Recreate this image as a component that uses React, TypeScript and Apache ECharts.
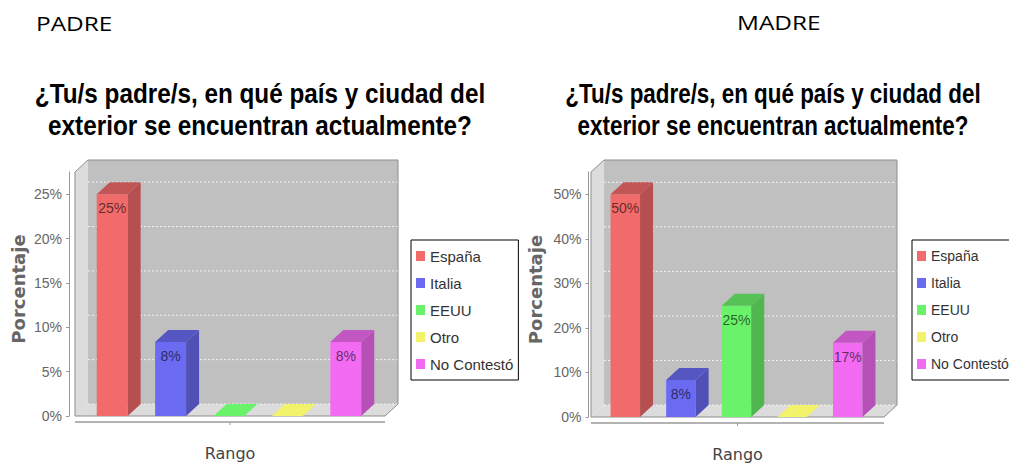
import React, { useEffect, useRef } from "react";
import * as echarts from "echarts";

const categories = ["España", "Italia", "EEUU", "Otro", "No Contestó"];
const padreValues = [25, 8.33, 0, 0, 8.33];
const madreValues = [50, 8.33, 25, 0, 16.67];
const padreTicks = [0, 5, 10, 15, 20, 25];
const madreTicks = [0, 10, 20, 30, 40, 50];
const padreMax = 27.5;
const madreMax = 55;
const sectionLabels = ["PADRE", "MADRE"];
const titleLines = ["¿Tu/s padre/s, en qué país y ciudad del", "exterior se encuentran actualmente?"];
const yAxisName = "Porcentaje";
const xAxisName = "Rango";

const COLORS = ["#f26b6b", "#6b6bf2", "#6bf26b", "#f2f26b", "#f26bf2"];
const DX = 13;
const DY = 12;

function shade(hex: string, f: number): string {
  const n = parseInt(hex.slice(1), 16);
  const r = Math.round(((n >> 16) & 255) * f);
  const g = Math.round(((n >> 8) & 255) * f);
  const b = Math.round((n & 255) * f);
  return "rgb(" + r + "," + g + "," + b + ")";
}

function makeFrame(pad: number, ticks: number[]) {
  return (params: any, api: any) => {
    const cs = params.coordSys;
    const L = cs.x - pad;
    const R = cs.x + cs.width + pad;
    const T = cs.y;
    const B = cs.y + cs.height;
    const children: any[] = [];
    children.push({ type: "rect", shape: { x: L + DX, y: T - DY, width: R - L, height: B - T }, style: { fill: "#c0c0c0" } });
    children.push({ type: "polygon", shape: { points: [[L, T], [L + DX, T - DY], [L + DX, B - DY], [L, B]] }, style: { fill: "#dcdcdc" } });
    children.push({ type: "polygon", shape: { points: [[L, B], [L + DX, B - DY], [R + DX, B - DY], [R, B]] }, style: { fill: "#dcdcdc" } });
    ticks.forEach((t) => {
      const y = api.coord([0, t])[1] - DY;
      children.push({ type: "line", shape: { x1: L + DX, y1: y, x2: R + DX, y2: y }, style: { stroke: "#f4f4f4", lineWidth: 1, lineDash: [2, 2] } });
    });
    children.push({
      type: "polygon",
      shape: { points: [[L, B], [L, T], [L + DX, T - DY], [R + DX, T - DY], [R + DX, B - DY], [R, B]] },
      style: { fill: "none", stroke: "#8c8c8c", lineWidth: 1 },
    });
    const ay = B + 6;
    children.push({ type: "line", shape: { x1: L, y1: ay, x2: R, y2: ay }, style: { stroke: "#9a9a9a", lineWidth: 1.5 } });
    const cx = cs.x + cs.width / 2;
    children.push({ type: "line", shape: { x1: cx, y1: ay, x2: cx, y2: ay + 3 }, style: { stroke: "#9a9a9a", lineWidth: 1 } });
    return { type: "group", children };
  };
}

function makeBar(color: string) {
  const side = shade(color, 0.75);
  const topC = shade(color, 0.8);
  return (params: any, api: any) => {
    const idx = api.value(0);
    const v = api.value(1);
    const p = api.coord([idx, v]);
    const b = api.coord([idx, 0]);
    const band = api.size([1, 0])[0];
    const w = band * 0.53;
    const x0 = p[0] - w / 2 - 1;
    const x1 = x0 + w;
    const yt = p[1];
    const yb = b[1];
    const children: any[] = [];
    const flat = yb - yt <= 0.5;
    if (!flat) {
      children.push({ type: "rect", shape: { x: x0, y: yt, width: w, height: yb - yt }, style: { fill: color } });
      children.push({ type: "polygon", shape: { points: [[x1, yt], [x1 + DX, yt - DY], [x1 + DX, yb - DY], [x1, yb]] }, style: { fill: side } });
    }
    children.push({ type: "polygon", shape: { points: [[x0, yt], [x0 + DX, yt - DY], [x1 + DX, yt - DY], [x1, yt]] }, style: { fill: flat ? color : topC } });
    if (v > 0) {
      children.push({
        type: "text",
        x: x0 + w / 2,
        y: yt + 14,
        style: {
          text: Math.round(v) + "%",
          textAlign: "center",
          textVerticalAlign: "middle",
          font: '14px "Liberation Sans"',
          fill: "rgba(0,0,0,0.62)",
        },
      });
    }
    return { type: "group", children };
  };
}

function yAxisCfg(idx: number, max: number, interval: number, offset: number, nameGap: number) {
  return {
    type: "value",
    gridIndex: idx,
    min: 0,
    max,
    interval,
    offset,
    name: yAxisName,
    nameLocation: "middle",
    nameGap,
    nameRotate: 90,
    nameTextStyle: { fontFamily: "DejaVu Sans", fontWeight: "bold", fontSize: 18, color: "#666", padding: [0, 0, 0, 10] },
    axisLine: { show: true, lineStyle: { color: "#999", width: 1 } },
    axisTick: { show: true, length: 3, lineStyle: { color: "#999" } },
    axisLabel: { formatter: "{value}%", showMaxLabel: false, color: "#666", fontSize: 14, fontFamily: "Liberation Sans", margin: 7 },
    splitLine: { show: false },
  };
}

function xAxisCfg(idx: number) {
  return {
    type: "category",
    gridIndex: idx,
    data: categories,
    name: xAxisName,
    nameLocation: "middle",
    nameGap: 29,
    nameTextStyle: { fontFamily: "DejaVu Sans", fontSize: 16, color: "#444" },
    axisLine: { show: false },
    axisTick: { show: false },
    axisLabel: { show: false },
    splitLine: { show: false },
  };
}

function legendCfg(left: number, fontSize: number) {
  return {
    left,
    top: 240,
    orient: "vertical",
    data: categories,
    icon: "rect",
    itemWidth: 9,
    itemHeight: 10,
    itemGap: 11,
    padding: [8, 5, 8, 5],
    borderColor: "#000",
    borderWidth: 1,
    backgroundColor: "#fff",
    selectedMode: false,
    textStyle: { fontSize, fontFamily: "Liberation Sans", color: "#333", lineHeight: 16 },
  };
}

export default function App() {
  const ref = useRef<HTMLDivElement>(null);
  useEffect(() => {
    document.body.style.margin = "0";
    document.body.style.overflow = "hidden";
    if (!ref.current) return;
    const chart = echarts.init(ref.current, undefined, { renderer: "svg" });
    const series: any[] = [];
    series.push({ type: "custom", xAxisIndex: 0, yAxisIndex: 0, z: 1, silent: true, data: [[0, 0]], renderItem: makeFrame(9, padreTicks) });
    series.push({ type: "custom", xAxisIndex: 1, yAxisIndex: 1, z: 1, silent: true, data: [[0, 0]], renderItem: makeFrame(7.5, madreTicks) });
    categories.forEach((c, i) => {
      series.push({ type: "custom", name: c, xAxisIndex: 0, yAxisIndex: 0, z: 2, itemStyle: { color: COLORS[i] }, data: [[c, padreValues[i]]], renderItem: makeBar(COLORS[i]) });
    });
    categories.forEach((c, i) => {
      series.push({ type: "custom", name: c, xAxisIndex: 1, yAxisIndex: 1, z: 2, itemStyle: { color: COLORS[i] }, data: [[c, madreValues[i]]], renderItem: makeBar(COLORS[i]) });
    });
    chart.setOption({
      animation: false,
      backgroundColor: "#fff",
      grid: [
        { left: 84, width: 292, top: 172, height: 244, outerBoundsMode: "none", containLabel: false },
        { left: 598.5, width: 278, top: 172, height: 245, outerBoundsMode: "none", containLabel: false },
      ],
      xAxis: [xAxisCfg(0), xAxisCfg(1)],
      yAxis: [yAxisCfg(0, padreMax, 5, 15, 42), yAxisCfg(1, madreMax, 10, 10, 44)],
      legend: [legendCfg(411, 15), legendCfg(912, 14)],
      graphic: [
        { type: "text", x: 36, y: 23, scaleX: 1.22, style: { text: sectionLabels[0], font: '20px "Open Sans"', fill: "#000", textVerticalAlign: "middle" } },
        { type: "text", x: 737, y: 22, scaleX: 1.22, style: { text: sectionLabels[1], font: '20px "Open Sans"', fill: "#000", textVerticalAlign: "middle" } },
        { type: "text", x: 260, y: 78, scaleX: 0.9, style: { text: titleLines.join("\n"), font: 'bold 27px "Liberation Sans"', lineHeight: 32, textAlign: "center", textVerticalAlign: "top", fill: "#000" } },
        { type: "text", x: 773, y: 78, scaleX: 0.83, style: { text: titleLines.join("\n"), font: 'bold 27px "Liberation Sans"', lineHeight: 32, textAlign: "center", textVerticalAlign: "top", fill: "#000" } },
      ],
      series,
    });
    return () => chart.dispose();
  }, []);
  return <div ref={ref} style={{ width: 1009, height: 466 }} />;
}
